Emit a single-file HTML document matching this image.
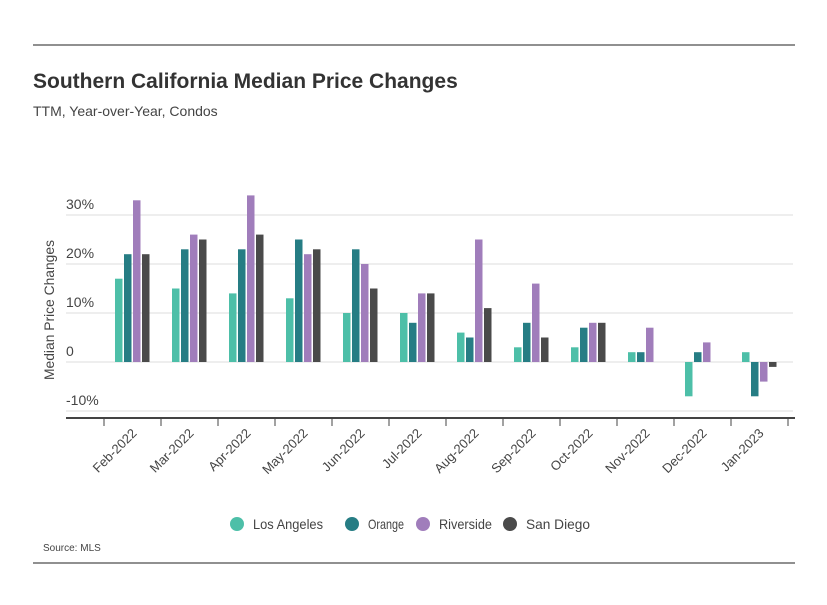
<!DOCTYPE html>
<html><head><meta charset="utf-8"><style>
body{margin:0;background:#fff;font-family:"Liberation Sans",sans-serif;}
</style></head><body>
<svg width="827" height="600" xmlns="http://www.w3.org/2000/svg">
<line x1="33" y1="45" x2="795" y2="45" stroke="#222" stroke-width="1"/>
<text x="33" y="88" font-size="21" font-weight="bold" fill="#333">Southern California Median Price Changes</text>
<text x="33" y="116" font-size="14" fill="#444">TTM, Year-over-Year, Condos</text>
<g id="plot"></g>
<text transform="translate(54,310) rotate(-90)" text-anchor="middle" font-size="14" fill="#444" textLength="140" lengthAdjust="spacingAndGlyphs">Median Price Changes</text>
<g id="legend"></g>
<text x="43" y="551" font-size="10" fill="#444">Source: MLS</text>
<line x1="33" y1="563" x2="795" y2="563" stroke="#222" stroke-width="1"/>
</svg>
<script>
const categories=["Feb-2022","Mar-2022","Apr-2022","May-2022","Jun-2022","Jul-2022","Aug-2022","Sep-2022","Oct-2022","Nov-2022","Dec-2022","Jan-2023"];
const seriesNames=["Los Angeles","Orange","Riverside","San Diego"];
const losAngeles=[17,15,14,13,10,10,6,3,3,2,-7,2];
const orange=[22,23,23,25,23,8,5,8,7,2,2,-7];
const riverside=[33,26,34,22,20,14,25,16,8,7,4,-4];
const sanDiego=[22,25,26,23,15,14,11,5,8,0,0,-1];
const yTicks=[-10,0,10,20,30];
const yTickLabels=["-10%","0","10%","20%","30%"];
const colors=["#4dbfa8","#267d84","#a07dbb","#4a4a4a"];
const NS="http://www.w3.org/2000/svg";
const plot=document.getElementById('plot');
const y=v=>362-v*4.9;
const x0=104,step=57;
const x=i=>x0+i*step;
function mk(t,a,p){const e=document.createElementNS(NS,t);for(const k in a)e.setAttribute(k,a[k]);(p||plot).appendChild(e);return e;}
yTicks.forEach((t,i)=>{
 const g=mk('line',{x1:66,x2:793,y1:y(t),y2:y(t),stroke:'#ddd','stroke-width':1});
 
 
 const l=mk('text',{x:66,y:y(t)-6,'font-size':14,fill:'#444'});
 l.textContent=yTickLabels[i];
 
 
});
const ax=mk('line',{x1:66,x2:795,y1:418,y2:418,stroke:'#444','stroke-width':2});


for(let i=0;i<=categories.length;i++){
 const t=mk('line',{x1:x(i),x2:x(i),y1:418,y2:426,stroke:'#444','stroke-width':1});
 
 
}
const all=[losAngeles,orange,riverside,sanDiego];
categories.forEach((c,i)=>{
 all.forEach((s,j)=>{
  const v=s[i]; if(v===0) return;
  const bx=x(i)+11+j*9;
  const r=mk('rect',{x:bx,y:Math.min(y(v),y(0)),width:7.5,height:Math.abs(y(v)-y(0)),fill:colors[j]});
  
  
 });
 const cx=x(i)+step/2+5;
 const lt=mk('text',{x:cx,y:434,'font-size':13,fill:'#444','text-anchor':'end',transform:`rotate(-45 ${cx} 434)`});
 lt.textContent=c;
 
 
});
const leg=document.getElementById('legend');
const lx=[237,352,423,510];
const lw=[70,36,53,64];
seriesNames.forEach((n,j)=>{
 const g=mk('g',{},leg);
 
 
 mk('circle',{cx:lx[j],cy:524,r:7,fill:colors[j]},g);
 const t=mk('text',{x:lx[j]+16,y:529,'font-size':14,fill:'#444',textLength:lw[j],lengthAdjust:'spacingAndGlyphs'},g);
 t.textContent=n;
});
</script>
</body></html>
